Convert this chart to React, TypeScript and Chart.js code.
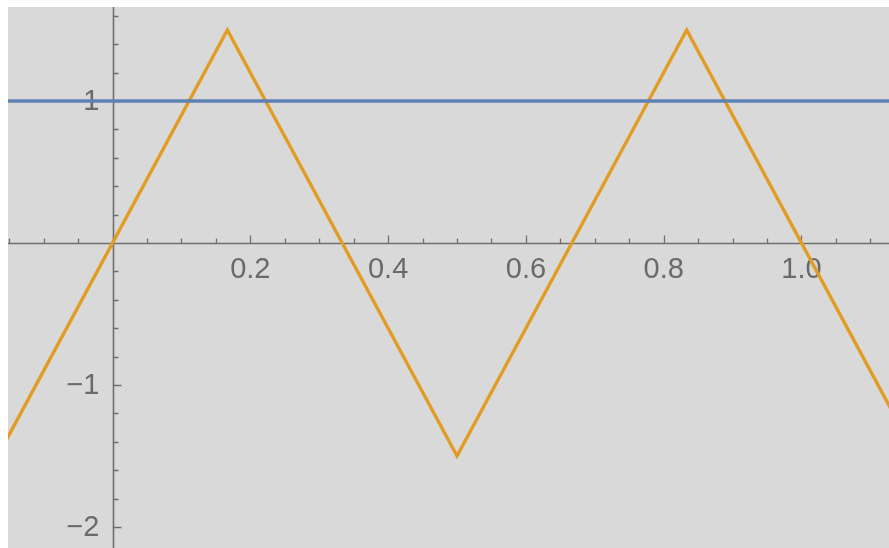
import React, { useEffect, useRef } from "react";
import { Chart, registerables } from "chart.js";

Chart.register(...registerables);

// Triangle wave vertices (x, y) and the constant line y = 1
const waveX = [-1 / 6, 1 / 6, 1 / 2, 5 / 6, 7 / 6];
const waveY = [-1.5, 1.5, -1.5, 1.5, -1.5];
const flatX = [-0.2, 1.2];
const flatY = [1, 1];

// Plot ranges
const xRange = [-0.1517, 1.127];
const yRange = [-2.148, 1.662];

// Axis ticks
const xMajorTicks = [0.2, 0.4, 0.6, 0.8, 1.0];
const xMajorLabels = ["0.2", "0.4", "0.6", "0.8", "1.0"];
const xMinorTicks = [-0.15, -0.1, -0.05, 0.05, 0.1, 0.15, 0.25, 0.3, 0.35, 0.45, 0.5, 0.55, 0.65, 0.7, 0.75, 0.85, 0.9, 0.95, 1.05, 1.1];
const yMajorTicks = [1, -1, -2];
const yMajorLabels = ["1", "\u22121", "\u22122"];
const yMinorTicks = [1.6, 1.4, 1.2, 0.8, 0.6, 0.4, 0.2, -0.2, -0.4, -0.6, -0.8, -1.2, -1.4, -1.6, -1.8];

const BG = "#d9d9d9";
const AXIS = "#6f6f6f";
const LABEL = "#6a6a6a";

const axesPlugin = {
  id: "crossAxes",
  beforeDraw(chart: any) {
    const { ctx, width, height } = chart;
    ctx.save();
    ctx.fillStyle = BG;
    ctx.fillRect(0, 0, width, height);
    ctx.restore();
  },
  beforeDatasetsDraw(chart: any) {
    const { ctx, chartArea } = chart;
    const xs = chart.scales.x;
    const ys = chart.scales.y;
    const x0 = Math.round(xs.getPixelForValue(0)) + 0.5;
    const y0 = Math.round(ys.getPixelForValue(0)) + 0.5;
    ctx.save();
    ctx.strokeStyle = AXIS;
    ctx.lineWidth = 1.6;
    ctx.beginPath();
    ctx.moveTo(chartArea.left, y0);
    ctx.lineTo(chartArea.right, y0);
    ctx.moveTo(x0, chartArea.top);
    ctx.lineTo(x0, chartArea.bottom);
    ctx.stroke();

    ctx.lineWidth = 1.3;
    ctx.beginPath();
    for (const v of xMajorTicks) {
      const px = Math.round(xs.getPixelForValue(v)) + 0.5;
      ctx.moveTo(px, y0);
      ctx.lineTo(px, y0 - 8);
    }
    for (const v of xMinorTicks) {
      const px = Math.round(xs.getPixelForValue(v)) + 0.5;
      ctx.moveTo(px, y0);
      ctx.lineTo(px, y0 - 5);
    }
    for (const v of yMajorTicks) {
      const py = Math.round(ys.getPixelForValue(v)) + 0.5;
      ctx.moveTo(x0, py);
      ctx.lineTo(x0 + 8, py);
    }
    for (const v of yMinorTicks) {
      const py = Math.round(ys.getPixelForValue(v)) + 0.5;
      ctx.moveTo(x0, py);
      ctx.lineTo(x0 + 5, py);
    }
    ctx.stroke();

    ctx.fillStyle = LABEL;
    ctx.font = "29px 'Liberation Sans', Arial, sans-serif";
    ctx.textAlign = "center";
    ctx.textBaseline = "top";
    xMajorTicks.forEach((v, i) => {
      ctx.fillText(xMajorLabels[i], xs.getPixelForValue(v), y0 + 12);
    });
    ctx.textAlign = "right";
    ctx.textBaseline = "middle";
    yMajorTicks.forEach((v, i) => {
      ctx.fillText(yMajorLabels[i], x0 - 14, ys.getPixelForValue(v) + 1);
    });
    ctx.restore();
  },
};

export default function App() {
  const canvasRef = useRef<HTMLCanvasElement | null>(null);

  useEffect(() => {
    const canvas = canvasRef.current;
    if (!canvas) return;
    const chart = new Chart(canvas, {
      type: "line",
      data: {
        datasets: [
          {
            data: flatX.map((x, i) => ({ x, y: flatY[i] })),
            borderColor: "#5e81b5",
            borderWidth: 3.4,
            pointRadius: 0,
            fill: false,
            tension: 0,
          },
          {
            data: waveX.map((x, i) => ({ x, y: waveY[i] })),
            borderColor: "#e19c24",
            borderWidth: 3.4,
            pointRadius: 0,
            fill: false,
            tension: 0,
          },
        ],
      },
      options: {
        animation: false,
        responsive: false,
        layout: { padding: 0 },
        plugins: { legend: { display: false }, tooltip: { enabled: false } },
        scales: {
          x: { type: "linear", min: xRange[0], max: xRange[1], display: false },
          y: { type: "linear", min: yRange[0], max: yRange[1], display: false },
        },
      },
      plugins: [axesPlugin],
    });
    return () => chart.destroy();
  }, []);

  return (
    <div style={{ position: "absolute", left: 8, top: 7, width: 881, height: 541 }}>
      <canvas ref={canvasRef} width={881} height={541} style={{ display: "block" }} />
    </div>
  );
}
